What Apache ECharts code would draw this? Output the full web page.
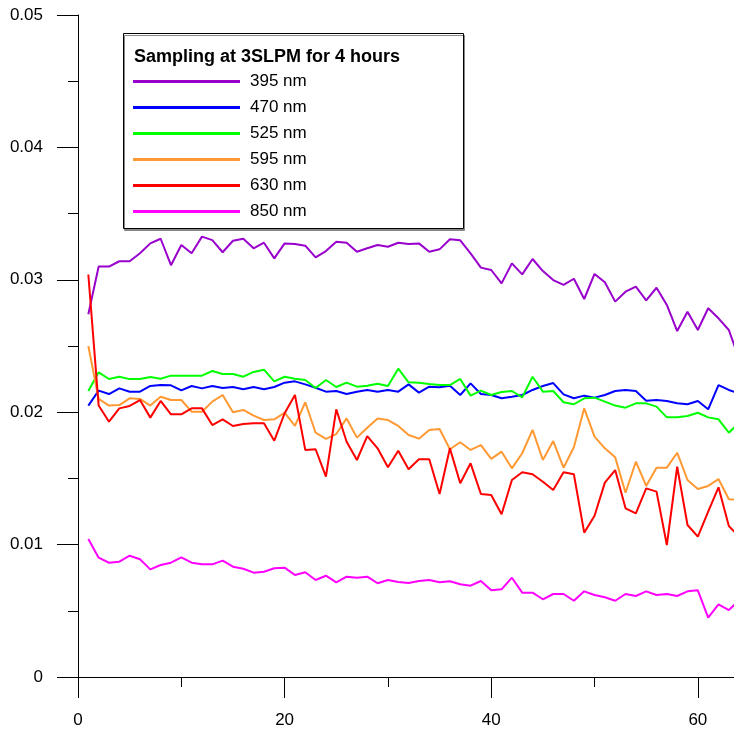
<!DOCTYPE html>
<html><head><meta charset="utf-8">
<script src="https://cdn.jsdelivr.net/npm/echarts@6/dist/echarts.min.js"></script>
<style>html,body{margin:0;padding:0;background:#fff}#c{width:734px;height:733px}</style>
</head><body><div id="c"></div>
<script>
const xs = [];
for (let i = 1; i <= 64; i++) xs.push(i);
const legendTitle = "Sampling at 3SLPM for 4 hours";
const names = ["395 nm","470 nm","525 nm","595 nm","630 nm","850 nm"];
const colors = ["#9900cc","#0000ff","#00ff00","#ff9933","#ff0000","#ff00ff"];
const yTicks = [0,0.01,0.02,0.03,0.04,0.05];
const xTicks = [0,20,40,60];
const xMinorTicks = [10,30,50];
const xMax = 63.5;

const s395 = [0.0274,0.0310,0.0310,0.0314,0.0314,0.0320,0.03275,0.0331,0.0311,0.03263,0.0320,0.03326,0.0330,0.03208,0.03295,0.0331,
0.03238,0.0328,0.03162,0.03275,0.0327,0.03258,0.0317,0.03217,0.03288,0.0328,0.03212,0.03238,0.03263,0.0325,0.0328,0.0327,
0.03275,0.03212,0.0323,0.03306,0.03298,0.0320,0.03092,0.03074,0.02973,0.03124,0.03041,0.03157,0.03066,0.02998,0.02961,0.03008,
0.02855,0.03044,0.02981,0.02835,0.0291,0.02948,0.02845,0.0294,0.0281,0.02613,0.02759,0.02621,0.02785,0.02709,0.02621,0.0240];
const s470 = [0.0205,0.02163,0.02137,0.0218,0.02155,0.02155,0.02198,0.02205,0.02203,0.02165,0.02198,0.0218,0.02198,0.02183,0.0219,0.02173,
0.0219,0.02173,0.0219,0.02223,0.02233,0.0221,0.02185,0.02155,0.0216,0.02137,0.02155,0.02168,0.02155,0.02168,0.02155,0.0221,
0.02148,0.02193,0.02188,0.0220,0.0213,0.02218,0.02137,0.0213,0.02105,0.02117,0.0213,0.02168,0.02198,0.0222,0.02135,0.02105,
0.02125,0.0211,0.0213,0.0216,0.02168,0.0216,0.02087,0.02092,0.02085,0.02067,0.0206,0.02085,0.02022,0.02205,0.02168,0.0214];
const s525 = [0.0216,0.02301,0.02251,0.02268,0.0225,0.0225,0.02266,0.02253,0.02276,0.02276,0.02276,0.02276,0.02311,0.02289,0.02289,0.02268,
0.02304,0.02321,0.02233,0.02268,0.02253,0.02243,0.02183,0.02243,0.0219,0.02223,0.02193,0.0220,0.02215,0.02198,0.02329,0.02226,
0.02223,0.02213,0.02205,0.02205,0.02251,0.02125,0.02163,0.0213,0.02153,0.0216,0.02112,0.02268,0.02155,0.0216,0.02075,0.0206,
0.02105,0.0211,0.0208,0.0205,0.02034,0.02067,0.02067,0.02042,0.01961,0.01961,0.01971,0.01996,0.01961,0.01946,0.01845,0.0192];
const s595 = [0.0250,0.0210,0.0205,0.02054,0.02105,0.0210,0.0205,0.02117,0.02092,0.02092,0.02004,0.02004,0.0208,0.0213,0.01999,0.02017,
0.01974,0.01941,0.01946,0.01996,0.01896,0.02075,0.01845,0.01798,0.01835,0.01953,0.01808,0.01883,0.01953,0.01941,0.01896,0.01828,
0.0180,0.01866,0.01873,0.0172,0.01773,0.01715,0.01752,0.01647,0.01702,0.01576,0.0169,0.01866,0.01639,0.01782,0.01581,0.01735,
0.02029,0.01815,0.01727,0.01659,0.01392,0.01626,0.01443,0.01581,0.01581,0.01694,0.01488,0.0142,0.01443,0.01495,0.01342,0.0134];
const s630 = [0.0304,0.0205,0.01928,0.02029,0.02047,0.02092,0.01959,0.02085,0.01984,0.01984,0.02029,0.02029,0.01903,0.01946,0.01896,0.01911,
0.01916,0.01916,0.01785,0.01992,0.0213,0.01715,0.0172,0.01513,0.02022,0.01777,0.01639,0.0182,0.01727,0.01584,0.01709,0.01569,
0.01644,0.01644,0.01382,0.01727,0.01463,0.01614,0.01382,0.01375,0.01229,0.01488,0.01546,0.01531,0.01475,0.01412,0.01546,0.01531,
0.0109,0.01218,0.01468,0.01563,0.01274,0.01236,0.01425,0.0140,0.00997,0.01588,0.01148,0.0106,0.01249,0.01433,0.0114,0.0106];
const s850 = [0.01042,0.00901,0.00863,0.00871,0.00916,0.00889,0.00813,0.00846,0.00863,0.00904,0.00863,0.00851,0.00851,0.00879,0.00833,0.00818,
0.00788,0.00795,0.00821,0.00826,0.0077,0.00791,0.00733,0.00765,0.00715,0.00758,0.0075,0.00758,0.00708,0.00733,0.00718,0.0071,
0.00725,0.00733,0.00715,0.00723,0.0070,0.0069,0.00725,0.00655,0.00662,0.0075,0.00637,0.00637,0.00587,0.00627,0.00627,0.00576,
0.00647,0.00619,0.00602,0.00576,0.00627,0.00612,0.00647,0.00619,0.00627,0.00612,0.00647,0.00655,0.00448,0.00549,0.00506,0.0058];

const seriesData = [s395,s470,s525,s595,s630,s850];
const font = "Arial, 'Liberation Sans', sans-serif";
const chart = echarts.init(document.getElementById('c'), null, {renderer:'canvas'});
const gridTop = 15, gridBottom = 56, H = 733;
chart.setOption({
  animation:false,
  backgroundColor:'#fff',
  title:{text:legendTitle, left:134, top:48, padding:0,
    textStyle:{fontFamily:font, fontSize:18, fontWeight:'bold', color:'#000'}},
  graphic:[{type:'rect', left:123, top:33, z:-1,
    shape:{width:340, height:195},
    style:{fill:'#fff', stroke:'#000', lineWidth:1, shadowColor:'#888', shadowOffsetX:1, shadowOffsetY:2, shadowBlur:0}}],
  legend:{orient:'vertical', left:133, top:73, padding:0, itemGap:9,
    itemWidth:107, itemHeight:3, icon:'rect',
    itemStyle:{borderWidth:0},
    textStyle:{fontFamily:font, fontSize:17, lineHeight:17, color:'#000', padding:[0,0,0,5]},
    data:names},
  grid:{left:78, right:0, top:gridTop, bottom:gridBottom, containLabel:false},
  xAxis:[{type:'value', min:0, max:xMax, interval:20, position:'bottom',
    axisLine:{show:true, onZero:false, lineStyle:{color:'#000', width:1}},
    axisTick:{show:true, inside:false, length:21, customValues:xTicks, lineStyle:{color:'#000'}},
    minorTick:{show:false},
    splitLine:{show:false},
    axisLabel:{margin:35, fontFamily:font, fontSize:17, color:'#000', customValues:xTicks,
      hideOverlap:false}},
   {type:'value', min:0, max:xMax, interval:10, position:'top',
    offset:-(H - gridTop - gridBottom),
    axisLine:{show:false},
    axisTick:{show:true, inside:true, length:10, customValues:xMinorTicks, lineStyle:{color:'#000'}},
    axisLabel:{show:false},
    splitLine:{show:false}}],
  yAxis:{type:'value', min:0, max:0.05, interval:0.01,
    axisLine:{show:true, onZero:false, lineStyle:{color:'#000', width:1}},
    axisTick:{show:true, inside:false, length:21, lineStyle:{color:'#000'}},
    minorTick:{show:true, splitNumber:2, length:10, lineStyle:{color:'#000'}},
    splitLine:{show:false},
    axisLabel:{margin:35, fontFamily:font, fontSize:17, color:'#000',
      formatter:v => { const t = yTicks.find(k => Math.abs(k - v) < 1e-9); return t === undefined ? '' : String(t); }}},
  series: names.map((n,i) => ({
    name:n, type:'line', showSymbol:false, symbol:'none', clip:true, xAxisIndex:0,
    color:colors[i],
    lineStyle:{color:colors[i], width:2},
    data: xs.map((x,j) => [x, seriesData[i][j]])
  }))
});
</script></body></html>
